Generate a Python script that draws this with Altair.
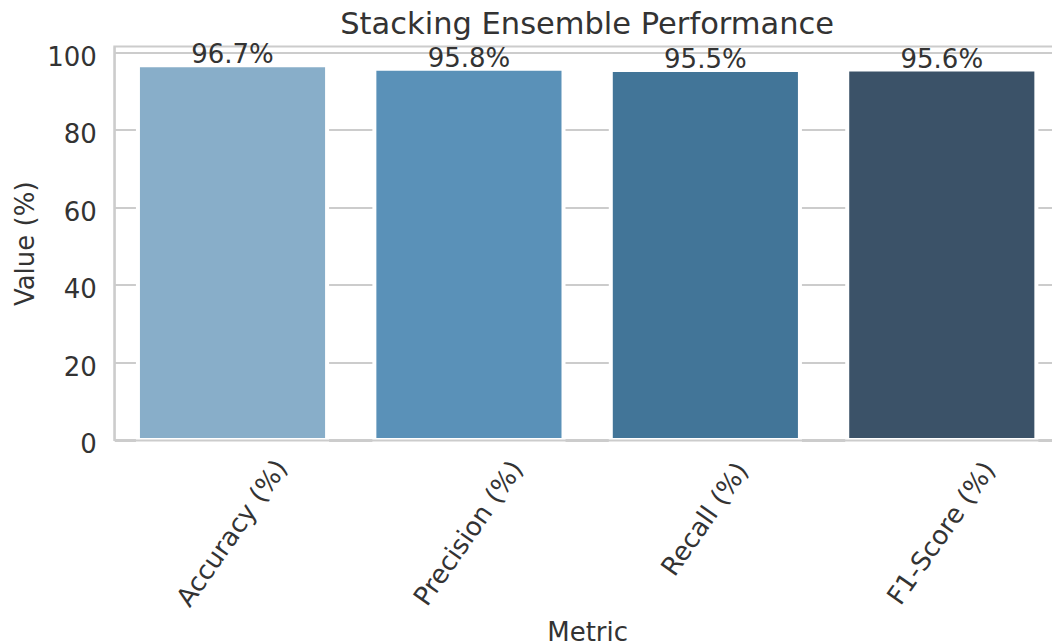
import altair as alt
import pandas as pd

# Metric values for the stacking ensemble
metrics = ["Accuracy (%)", "Precision (%)", "Recall (%)", "F1-Score (%)"]
values = [96.7, 95.8, 95.5, 95.6]
bar_colors = ["#88aec9", "#5a91b8", "#427598", "#3b5268"]
y_ticks = [0, 20, 40, 60, 80, 100]

df = pd.DataFrame({"Metric": metrics, "Value": values})
df["Label"] = [f"{v:.1f}%" for v in values]

FONT = "DejaVu Sans"
INK = "#333333"
GRID = "#cccccc"
y_top = max(values) * 1.05  # matplotlib-style headroom above the tallest bar

base = alt.Chart(df).encode(
    x=alt.X(
        "Metric:N",
        sort=metrics,
        scale=alt.Scale(paddingInner=0.2, paddingOuter=0.1),
        axis=alt.Axis(
            title="Metric",
            labelAngle=-55,
            labelAlign="center",
            labelBaseline="middle",
            labelPadding={
                "condition": {"test": "datum.label == 'Recall (%)'", "value": 79},
                "value": 93,
            },
            labelOverlap=False,
            labelFlush=False,
            labelFont=FONT,
            labelFontSize=26,
            labelColor=INK,
            ticks=False,
            tickSize=0,
            grid=False,
            domain=True,
            domainColor=GRID,
            domainWidth=2,
            zindex=1,
            titleFont=FONT,
            titleFontSize=26,
            titleFontWeight="normal",
            titleColor=INK,
            titleY=200,
            titleBaseline="alphabetic",
        ),
    ),
    y=alt.Y(
        "Value:Q",
        scale=alt.Scale(domain=[0, y_top], nice=False, zero=True),
        axis=alt.Axis(
            title="Value (%)",
            values=y_ticks,
            grid=True,
            gridColor=GRID,
            gridWidth=2,
            ticks=False,
            tickSize=0,
            domain=True,
            domainColor=GRID,
            domainWidth=2,
            labelFont=FONT,
            labelFontSize=26,
            labelColor=INK,
            labelPadding=18,
            labelBaseline="alphabetic",
            labelOffset=12.8,
            titleFont=FONT,
            titleFontSize=26,
            titleFontWeight="normal",
            titleColor=INK,
            titleX=-80.8,
            titleBaseline="alphabetic",
        ),
    ),
)

bars = base.mark_bar(stroke="white", strokeWidth=4).encode(
    color=alt.Color(
        "Metric:N",
        scale=alt.Scale(domain=metrics, range=bar_colors),
        legend=None,
    )
)

labels = base.mark_text(
    dy=-2, baseline="alphabetic", align="center", font=FONT, fontSize=26, color=INK
).encode(text="Label:N")

chart = (
    alt.layer(bars, labels)
    .properties(
        width=945.7,
        height=393.5,
        autosize=alt.AutoSizeParams(type="none"),
        padding={"left": 114.3, "top": 46.5, "right": -8, "bottom": 204},
        title=alt.TitleParams(
            "Stacking Ensemble Performance",
            font=FONT,
            fontSize=30.5,
            fontWeight="normal",
            color=INK,
            anchor="middle",
            frame="group",
            baseline="alphabetic",
            offset=10.5,
            dy=33,
        ),
    )
    .configure(background="white")
    .configure_view(stroke=GRID, strokeWidth=2)
)

chart.save("out.html", embed_options={"renderer": "svg", "actions": False})
